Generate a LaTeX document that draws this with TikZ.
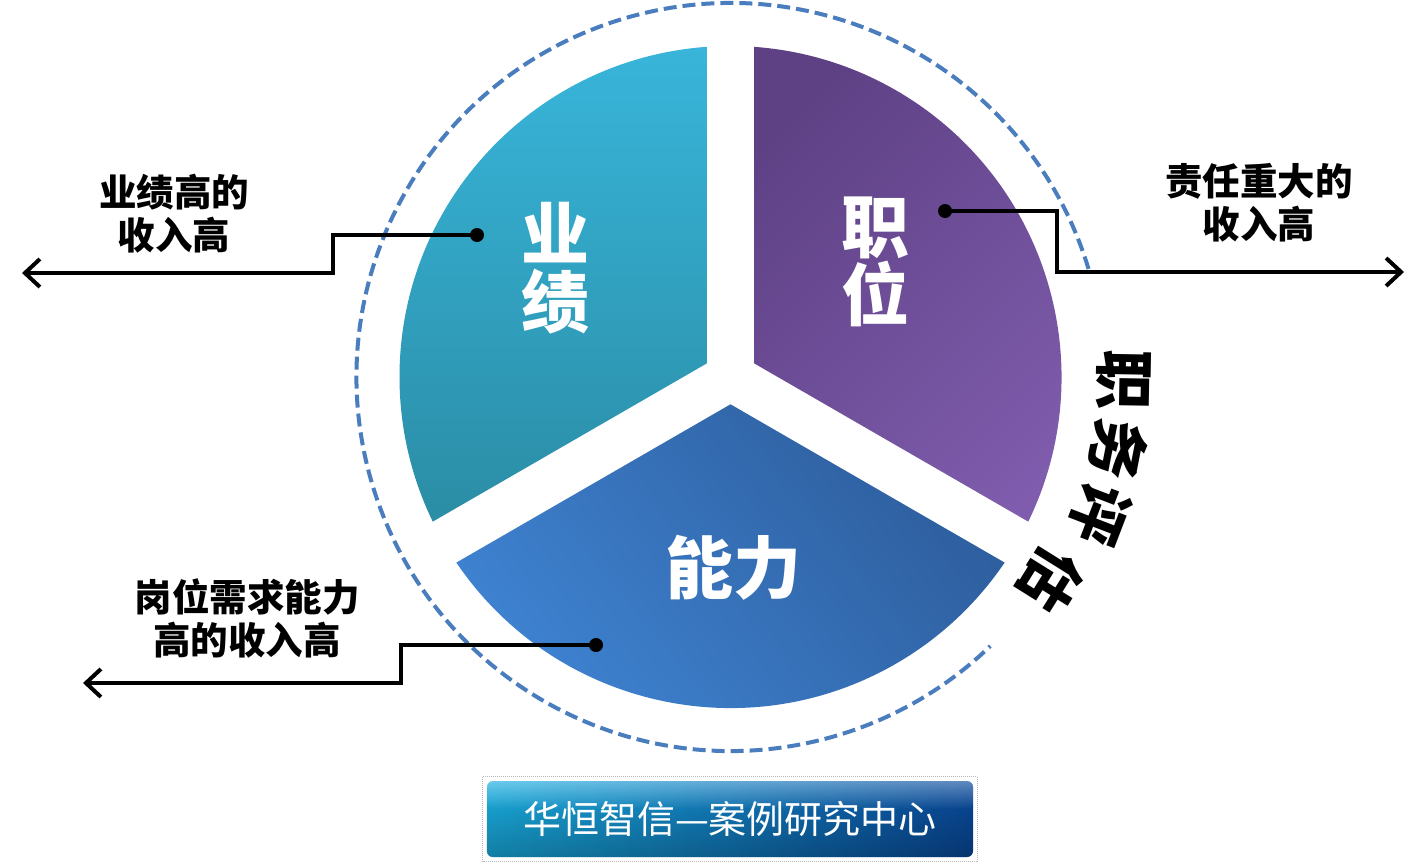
\documentclass[tikz,border=0pt]{standalone}
\usepackage{fontspec}
\newfontfamily\cjk{Noto Sans CJK SC}
\usetikzlibrary{arrows.meta,calc,fadings}
\definecolor{ringblue}{HTML}{4A7DBE}
\definecolor{yjtop}{HTML}{38B5DA}
\definecolor{yjbot}{HTML}{2A8BA3}
\definecolor{zwdark}{HTML}{5E4185}
\definecolor{zwlight}{HTML}{7F5CAD}
\definecolor{nldark}{HTML}{2D5C9B}
\definecolor{nllight}{HTML}{3F84D3}
\definecolor{banleft}{HTML}{1AAFE2}
\definecolor{banright}{HTML}{0A4A9C}
\begin{document}
\begin{tikzpicture}[x=1pt,y=-1pt,
  dashring/.style={ringblue, line width=4pt, dash pattern=on 13pt off 6pt},
  gapline/.style={white, line width=47pt},
  pielab/.style={text=white, align=center, inner sep=0pt, font=\cjk\bfseries\fontsize{68}{68}\selectfont},
  sidelab/.style={text=black, align=center, inner sep=0pt, font=\cjk\bfseries\fontsize{37.5}{43}\selectfont},
  arclab/.style={text=black, inner sep=0pt, font=\cjk\bfseries\fontsize{60}{60}\selectfont},
  dotn/.style={circle, fill=black, inner sep=0pt, minimum size=14pt},
  conn/.style={black, line width=4pt, line join=miter},
  arr/.style={-{Straight Barb[length=15pt, width=28pt, line width=4pt]}},
  banner/.style={minimum width=486pt, minimum height=76pt, rounded corners=6pt, inner sep=0pt,
    left color=banleft, right color=banright},
  bantxt/.style={text=white, inner sep=0pt, font=\cjk\fontsize{38}{38}\selectfont}
]
\useasboundingbox (0,0) rectangle (1427,863);
\fill[white] (0,0) rectangle (1427,863);
\coordinate (C) at (730.5,377);

% dashed ring (open on the right)
\draw[dashring] ($(C)+(-16.8:374)$) arc[start angle=-16.8, end angle=-314, radius=374];

% pie sectors
\shade[top color=yjtop, bottom color=yjbot]
  (C) -- ++(-90:331) arc[start angle=-90, end angle=-210, radius=331] -- cycle;
\shade[top color=zwdark, bottom color=zwlight, shading angle=45]
  (C) -- ++(30:331) arc[start angle=30, end angle=-90, radius=331] -- cycle;
\shade[top color=nldark, bottom color=nllight, shading angle=-50]
  (C) -- ++(150:331) arc[start angle=150, end angle=30, radius=331] -- cycle;

% white separators
\draw[gapline] (C) -- ++(-90:342);
\draw[gapline] (C) -- ++(-210:342);
\draw[gapline] (C) -- ++(30:342);
\fill[white] (C) circle[radius=24];

% pie labels
\node[pielab] (yj) at (555,268) {业\\绩};
\node[pielab] (zw) at (875,262) {职\\位};
\node[pielab] (nl) at (733,568) {能力};

% curved caption
\node[arclab, rotate=-91] (w1) at (1124,380) {职};
\node[arclab, rotate=-101] (w2) at (1118,449) {务};
\node[arclab, rotate=-111] (w3) at (1100,515) {评};
\node[arclab, rotate=-122] (w4) at (1051,580) {估};

% side labels
\node[sidelab] (t1) at (174,214) {业绩高的\\收入高};
\node[sidelab] (t2) at (1259,203) {责任重大的\\收入高};
\node[sidelab] (t3) at (247,618) {岗位需求能力\\高的收入高};

% connectors
\node[dotn] (d1) at (477,235) {};
\node[dotn] (d2) at (945,211) {};
\node[dotn] (d3) at (596,645) {};
\coordinate (k1) at (333,273);
\coordinate (e1) at (22,273);
\coordinate (k2) at (1057,272);
\coordinate (e2) at (1404,272);
\coordinate (k3) at (401,683);
\coordinate (e3) at (83,683);
\draw[conn, arr] (d1.center) -| (k1) -- (e1);
\draw[conn, arr] (d2.center) -| (k2) -- (e2);
\draw[conn, arr] (d3.center) -| (k3) -- (e3);

% banner
\node[banner] (ban) at (730,819) {};
\fill[black, fill opacity=0.28, path fading=north, rounded corners=6pt]
  (ban.north west) rectangle (ban.south east);
\fill[white, fill opacity=0.35, path fading=south, rounded corners=6pt]
  (ban.north west) rectangle ($(ban.east)+(0,-10)$);
\node[bantxt] (bantext) at (ban.center) {华恒智信—案例研究中心};
\draw[gray!55, densely dotted, line width=1pt] ($(ban.north west)+(-4,-4)$) rectangle ($(ban.south east)+(4,4)$);
\end{tikzpicture}
\end{document}
